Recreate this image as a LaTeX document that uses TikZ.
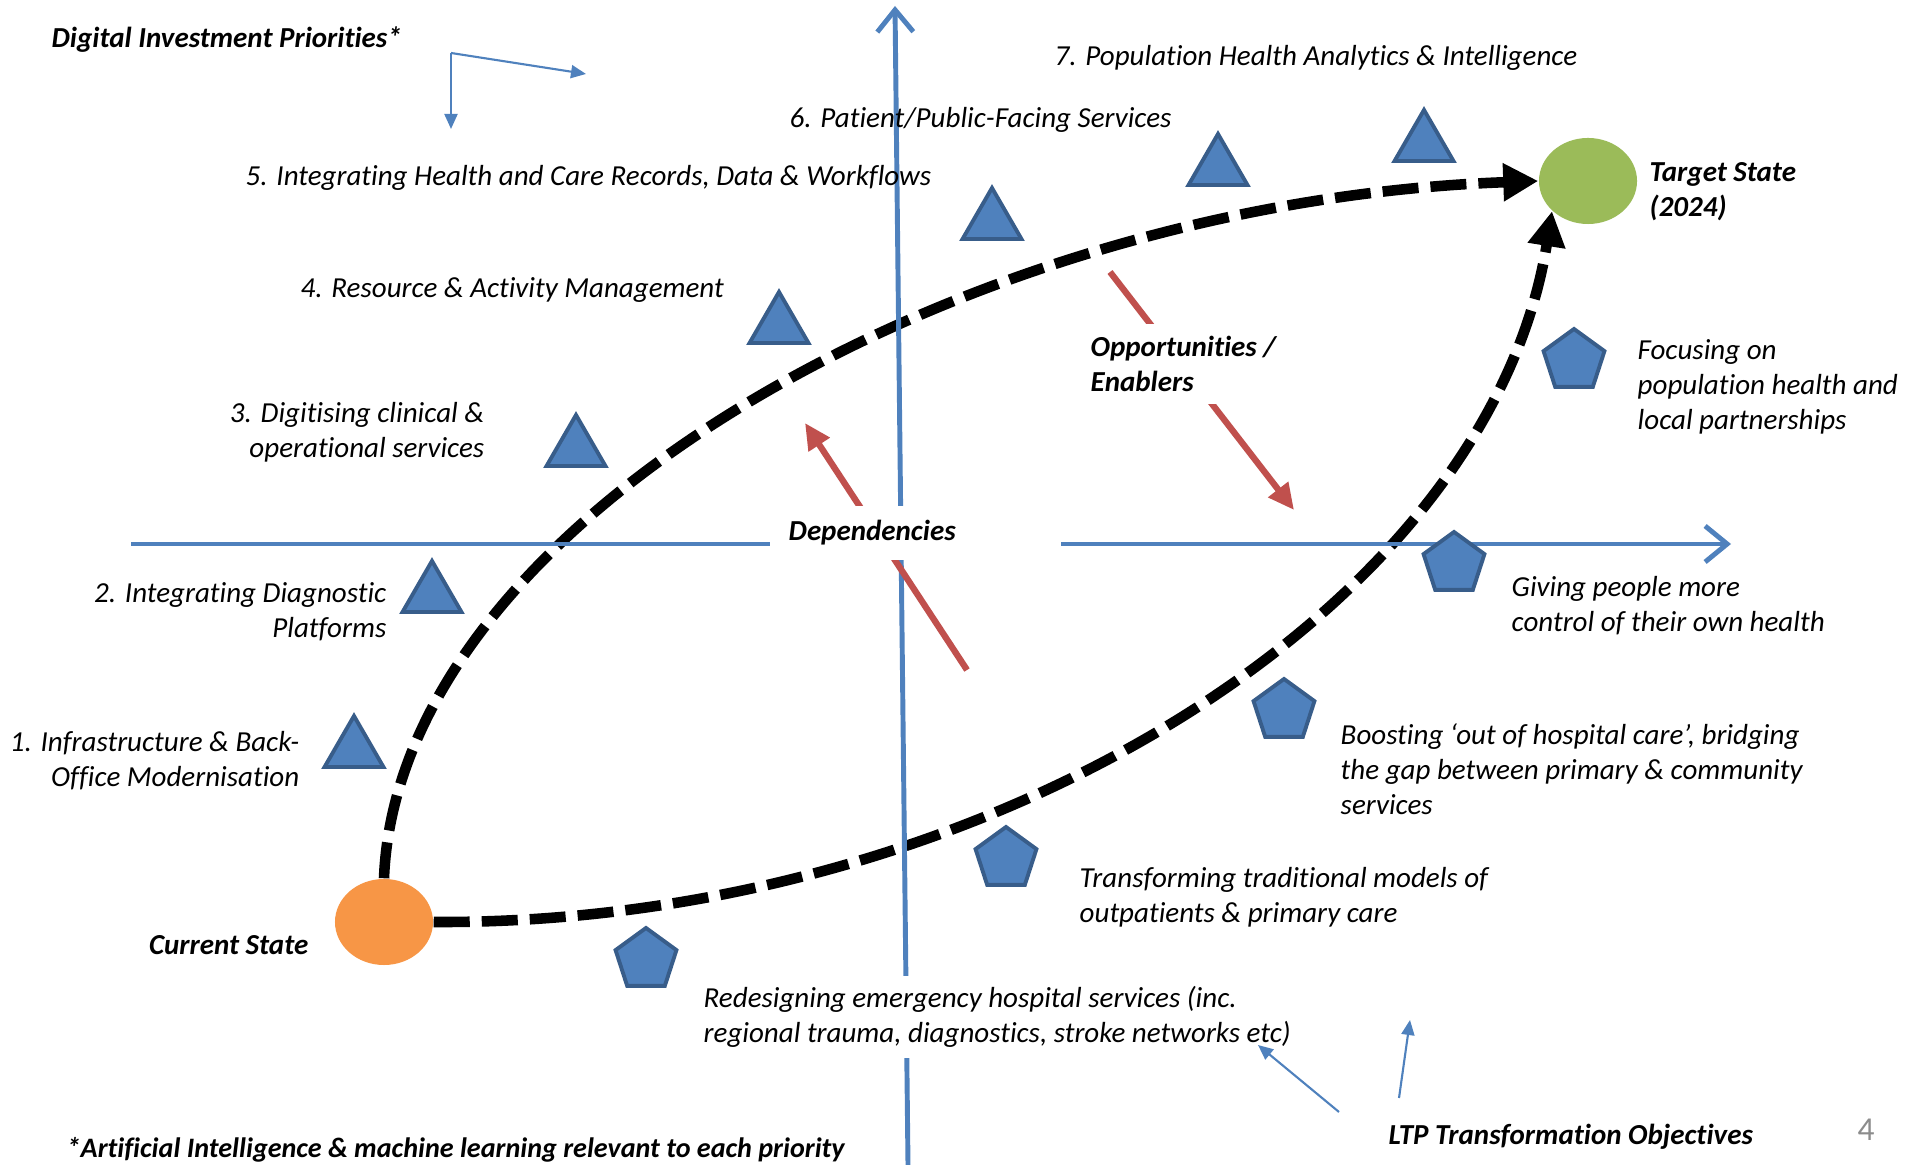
\documentclass[tikz,border=0pt]{standalone}
\usepackage{fontspec}
\setmainfont{Carlito}[Ligatures={NoCommon,NoRare,NoContextual}, Contextuals={NoAlternate}]
\usetikzlibrary{shapes.geometric,arrows.meta}
\definecolor{axblue}{HTML}{4F81BD}
\definecolor{shpfill}{HTML}{4F81BD}
\definecolor{shpedge}{HTML}{385D8A}
\definecolor{enred}{HTML}{C0504D}
\definecolor{curorange}{HTML}{F79646}
\definecolor{tgtgreen}{HTML}{9BBB59}
\definecolor{pagegray}{HTML}{8C8C8C}

\begin{document}
\begin{tikzpicture}[x=0.01cm,y=-0.01cm]
	\tikzset{prnode/.style={regular polygon, regular polygon sides=3, draw=shpedge,
				fill=shpfill, line width=1.1pt, minimum size=0.68cm, inner sep=0pt}}
	\tikzset{obnode/.style={regular polygon, regular polygon sides=5, draw=shpedge,
				fill=shpfill, line width=1.1pt, minimum size=0.64cm, inner sep=0pt}}
	\tikzset{stnode/.style={ellipse, minimum width=0.98cm, minimum height=0.86cm, inner sep=0pt}}
	\tikzset{lbl/.style={font=\itshape\fontsize{8.25pt}{10pt}\selectfont, inner sep=0pt}}
	\tikzset{blbl/.style={font=\bfseries\itshape\fontsize{8.25pt}{10pt}\selectfont, inner sep=0pt}}
	\tikzset{axline/.style={axblue, line width=1.4pt, -{Straight Barb[length=0.22cm,width=0.36cm]}}}
	\tikzset{pathdash/.style={line width=3pt, dash pattern=on 0.36cm off 0.12cm,
				-{Triangle[length=0.35cm,width=0.36cm]}}}
	\tikzset{redline/.style={enred, line width=1.8pt, -{Triangle[length=0.26cm,width=0.24cm]}}}
	\tikzset{bluearr/.style={axblue, line width=0.6pt, -{Triangle[length=0.15cm,width=0.13cm]}}}

	\useasboundingbox (0,0) rectangle (1921,1165);

	% current and target state
	\node[stnode, fill=curorange] (cur) at (384,922) {};
	\node[stnode, fill=tgtgreen] (tgt) at (1588,181) {};
	\draw[pathdash] (cur.north) .. controls (398,521) and (962,202) .. (tgt.west);
	\draw[pathdash] (cur.east) .. controls (980,925) and (1488,613) .. (tgt.220);

	% axes
	\coordinate (vbot) at (908,1165);
	\coordinate (vtop) at (895,6);
	\coordinate (hleft) at (131,544);
	\coordinate (hright) at (1731,544);
	\draw[axline] (vbot) -- (vtop);
	\draw[axline] (hleft) -- (hright);

	% dependencies and enablers
	\coordinate (depS) at (967,670);
	\coordinate (depE) at (805,423);
	\coordinate (oppS) at (1110,272);
	\coordinate (oppE) at (1294,510);
	\draw[redline] (depS) -- (depE);
	\draw[redline] (oppS) -- (oppE);
	\node[blbl, fill=white, anchor=west, inner xsep=0.19cm, text width=2.53cm,
		minimum height=0.54cm, align=left] (dep) at (769,533) {Dependencies};
	\node[blbl, fill=white, anchor=west, inner xsep=0.15cm, inner ysep=0.12cm,
		align=left] (opp) at (1075,364) {Opportunities /\\Enablers};

	% digital investment priorities
	\node[prnode] (t1) at (354,750) {};
	\node[prnode] (t2) at (432,595) {};
	\node[prnode] (t3) at (576,449) {};
	\node[prnode] (t4) at (779,326) {};
	\node[prnode] (t5) at (992,222) {};
	\node[prnode] (t6) at (1218,168) {};
	\node[prnode] (t7) at (1424,144) {};

	\node[lbl, anchor=east, align=right] (p1) at (300,761) {1. Infrastructure \& Back-\\Office Modernisation};
	\node[lbl, anchor=east, align=right] (p2) at (387,612) {2. Integrating Diagnostic\\Platforms};
	\node[lbl, anchor=east, align=right] (p3) at (485,432) {3. Digitising clinical \&\\operational services};
	\node[lbl, anchor=west] (p4) at (300,290) {4. Resource \& Activity Management};
	\node[lbl, anchor=west] (p5) at (245,178) {5. Integrating Health and Care Records, Data \& Workflows};
	\node[lbl, anchor=west] (p6) at (789,120) {6. Patient/Public-Facing Services};
	\node[lbl, anchor=west] (p7) at (1054,58) {7. Population Health Analytics \& Intelligence};

	% LTP objectives
	\node[obnode] (q1) at (1574,361) {};
	\node[obnode] (q2) at (1454,564) {};
	\node[obnode] (q3) at (1284,711) {};
	\node[obnode] (q4) at (1006,859) {};
	\node[obnode] (q5) at (646,960) {};

	\node[lbl, anchor=west, align=left] (o1) at (1637,387) {Focusing on\\population health and\\local partnerships};
	\node[lbl, anchor=west, align=left] (o2) at (1511,606) {Giving people more\\control of their own health};
	\node[lbl, anchor=west, align=left] (o3) at (1340,769) {Boosting ‘out of hospital care’, bridging\\the gap between primary \& community\\services};
	\node[lbl, anchor=west, align=left] (o4) at (1079,897) {Transforming traditional models of\\outpatients \& primary care};
	\node[lbl, fill=white, anchor=west, inner xsep=0.1cm, inner ysep=0.1cm, align=left] (o5) at (693,1017)
		{Redesigning emergency hospital services (inc.\\regional trauma, diagnostics, stroke networks etc)};

	% headings
	\node[blbl, anchor=west] (dip) at (51,40) {Digital Investment Priorities*};
	\node[blbl, anchor=east] (curlbl) at (309,945) {Current State};
	\node[blbl, anchor=west, align=left] (tgtlbl) at (1649,192) {Target State\\(2024)};
	\node[blbl, anchor=west] (ltp) at (1388,1137) {LTP Transformation Objectives};
	\node[blbl, anchor=west, font=\bfseries\itshape\fontsize{8pt}{10pt}\selectfont] (ainote) at (66,1150)
		{*Artificial Intelligence \& machine learning relevant to each priority};
	\node[text=pagegray, font=\fontsize{9.5pt}{11pt}\selectfont, inner sep=0pt] (pgno) at (1866,1130) {4};

	% pointers
	\coordinate (dipA) at (451,53);
	\coordinate (dipB) at (451,129);
	\coordinate (dipC) at (586,74);
	\draw[bluearr] (dipA) -- (dipB);
	\draw[bluearr] (dipA) -- (dipC);
	\coordinate (ltpA) at (1339,1112);
	\coordinate (ltpB) at (1258,1045);
	\coordinate (ltpC) at (1399,1098);
	\coordinate (ltpD) at (1410,1020);
	\draw[bluearr] (ltpA) -- (ltpB);
	\draw[bluearr] (ltpC) -- (ltpD);
\end{tikzpicture}
\end{document}
